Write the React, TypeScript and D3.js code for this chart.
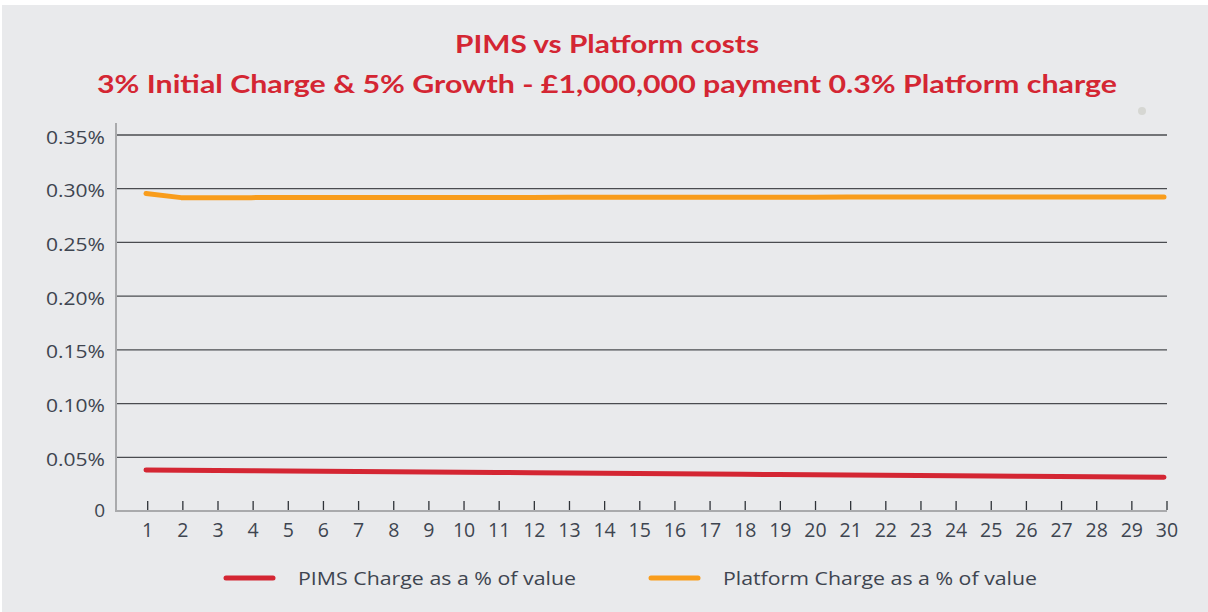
import React from "react";
import * as d3 from "d3";

const years: number[] = Array.from({ length: 30 }, (_, i) => i + 1);
const yTicks: number[] = [0, 0.05, 0.1, 0.15, 0.2, 0.25, 0.3, 0.35];
const pimsCharge: number[] = [
  0.0382, 0.0380, 0.0377, 0.0375, 0.0373, 0.0370, 0.0368, 0.0366, 0.0363, 0.0361,
  0.0359, 0.0356, 0.0354, 0.0352, 0.0349, 0.0347, 0.0345, 0.0342, 0.0340, 0.0338,
  0.0335, 0.0333, 0.0331, 0.0328, 0.0326, 0.0324, 0.0321, 0.0319, 0.0317, 0.0314,
];
const platformCharge: number[] = [
  0.2955, 0.2917, 0.2917, 0.2917, 0.2918, 0.2918, 0.2918, 0.2918, 0.2919, 0.2919,
  0.2919, 0.2919, 0.2920, 0.2920, 0.2920, 0.2920, 0.2921, 0.2921, 0.2921, 0.2921,
  0.2922, 0.2922, 0.2922, 0.2922, 0.2923, 0.2923, 0.2923, 0.2923, 0.2924, 0.2924,
];
const seriesNames = ["PIMS Charge as a % of value", "Platform Charge as a % of value"];
const seriesColors = ["#d42633", "#f99d1c"];

const W = 1208;
const H = 612;
const plotLeft = 116;
const plotRight = 1167;

export default function App() {
  const x = d3.scaleLinear().domain([1, 30]).range([146, 1164]);
  const xt = d3.scaleLinear().domain([1, 30]).range([147.7, 1167]);
  const y = d3.scaleLinear().domain([0, 0.35]).range([511, 135]);
  const line = d3
    .line<number>()
    .x((_, i) => x(years[i]))
    .y((d) => y(d));
  const fontLabel = "'Open Sans', Lato, sans-serif";
  const textColor = "#3e4550";
  const legendLens = [278, 314];
  return (
    <svg
      width={W}
      height={H}
      style={{ position: "absolute", left: 0, top: 0 }}
    >
      <rect x={0} y={0} width={W} height={H} fill="#ffffff" />
      <rect x={2} y={5} width={W - 2} height={H - 5} fill="#e9eaec" />
      <circle cx={1142} cy={111} r={4} fill="#d6d7d3" />
      <text
        x={607}
        y={53}
        textAnchor="middle"
        fontFamily="Lato, 'Open Sans', sans-serif"
        fontWeight={700}
        fontSize={25}
        fill="#d42633"
        textLength={304}
        lengthAdjust="spacingAndGlyphs"
      >
        PIMS vs Platform costs
      </text>
      <text
        x={607}
        y={93}
        textAnchor="middle"
        fontFamily="Lato, 'Open Sans', sans-serif"
        fontWeight={700}
        fontSize={25}
        fill="#d42633"
        textLength={1020}
        lengthAdjust="spacingAndGlyphs"
      >
        3% Initial Charge &amp; 5% Growth - £1,000,000 payment 0.3% Platform charge
      </text>
      {yTicks.filter((t) => t > 0).map((t) => (
        <line
          key={"g" + t}
          x1={plotLeft}
          x2={plotRight}
          y1={y(t)}
          y2={y(t)}
          stroke="#4a4c50"
          strokeWidth={1.3}
        />
      ))}
      {yTicks.map((t) => (
        <text
          key={"yl" + t}
          x={105}
          y={y(t) + (t === 0 ? 6 : 8.5)}
          textAnchor="end"
          fontFamily={fontLabel}
          fontSize={19}
          fill={textColor}
          textLength={t === 0 ? undefined : 59}
          lengthAdjust="spacingAndGlyphs"
        >
          {t === 0 ? "0" : t.toFixed(2) + "%"}
        </text>
      ))}
      <line x1={plotLeft} x2={plotLeft} y1={123} y2={512} stroke="#a9aaac" strokeWidth={2} />
      <line x1={plotLeft} x2={plotRight} y1={511} y2={511} stroke="#a9aaac" strokeWidth={2} />
      {years.map((yr) => (
        <g key={"xt" + yr}>
          <line x1={xt(yr)} x2={xt(yr)} y1={501} y2={510} stroke="#2f3338" strokeWidth={1.3} />
          <text
            x={xt(yr)}
            y={537}
            textAnchor="middle"
            fontFamily={fontLabel}
            fontSize={19.5}
            fill={textColor}
          >
            {yr}
          </text>
        </g>
      ))}
      <path
        d={line(platformCharge) || ""}
        fill="none"
        stroke={seriesColors[1]}
        strokeWidth={5}
        strokeLinecap="round"
        strokeLinejoin="round"
      />
      <path
        d={line(pimsCharge) || ""}
        fill="none"
        stroke={seriesColors[0]}
        strokeWidth={5}
        strokeLinecap="round"
        strokeLinejoin="round"
      />
      {seriesNames.map((name, i) => {
        const lx = i === 0 ? 226 : 651;
        return (
          <g key={name}>
            <line
              x1={lx}
              x2={lx + 47}
              y1={578}
              y2={578}
              stroke={seriesColors[i]}
              strokeWidth={5}
              strokeLinecap="round"
            />
            <text
              x={lx + 72}
              y={585}
              fontFamily={fontLabel}
              fontSize={19}
              fill={textColor}
              textLength={legendLens[i]}
              lengthAdjust="spacingAndGlyphs"
            >
              {name}
            </text>
          </g>
        );
      })}
    </svg>
  );
}
